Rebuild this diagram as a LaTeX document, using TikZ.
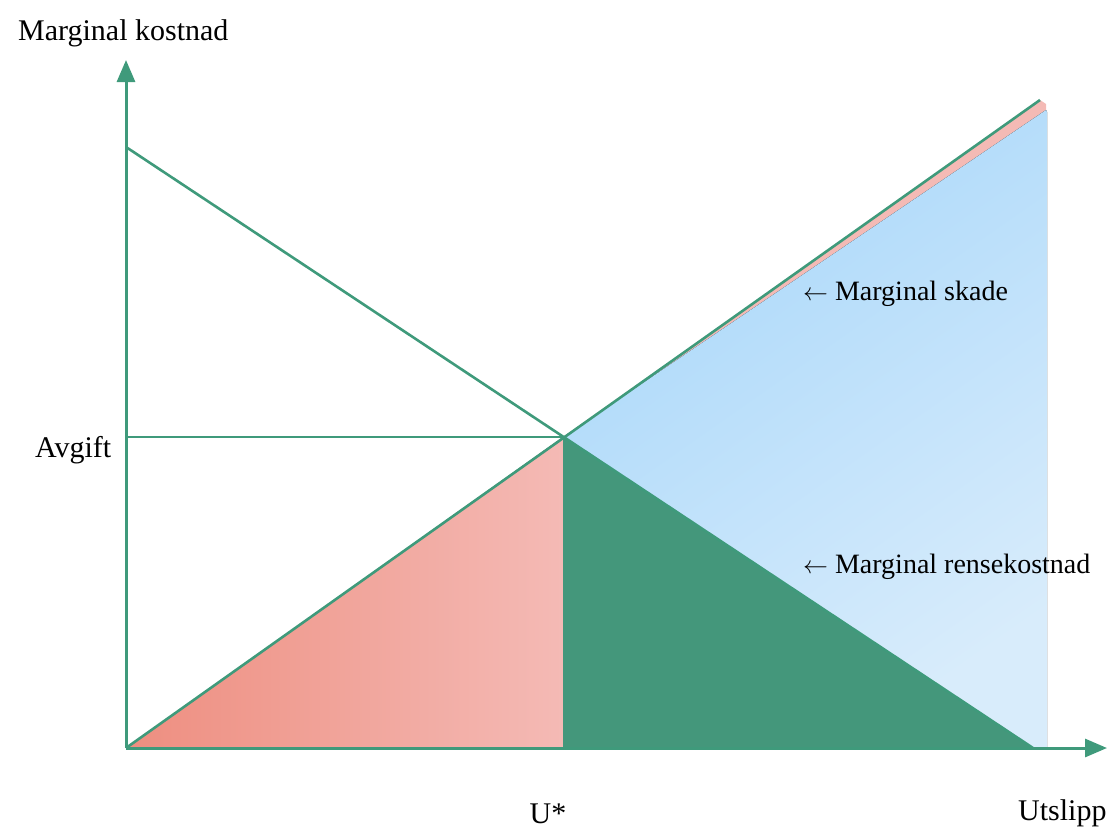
\documentclass[tikz,border=0pt]{standalone}
\usepackage{fontspec}
\setmainfont{Liberation Serif}
\usepackage{xcolor}
\usetikzlibrary{arrows.meta, positioning}

\definecolor{kurve}{HTML}{3F9A7B}
\definecolor{gronn}{HTML}{44977B}
\definecolor{rosa1}{HTML}{EE8E80}
\definecolor{rosa2}{HTML}{F4BAB5}
\definecolor{blaa1}{HTML}{A8D7FA}
\definecolor{blaa2}{HTML}{D8ECFB}

\begin{document}
\begin{tikzpicture}[
        x=1pt, y=-1pt,
        axis/.style={draw=kurve, line width=3pt, -{Triangle[length=22pt, width=18pt]}},
        curve/.style={draw=kurve, line width=2.6pt},
        bigtext/.style={font=\fontsize{30}{34}\selectfont, inner sep=0pt},
        label/.style={font=\fontsize{28}{32}\selectfont, inner sep=0pt, anchor=west}
    ]
        \useasboundingbox (0,0) rectangle (1107,830);

        % Points
        \coordinate (origo) at (126,748);
        \coordinate (ytopp) at (126,60);
        \coordinate (xende) at (1107,748);
        \coordinate (likevekt) at (563,437);
        \coordinate (ufot) at (563,748);
        \coordinate (rstart) at (126,147);
        \coordinate (rslutt) at (1033,748);
        \coordinate (sslutt) at (1040,100);
        \coordinate (avgift) at (126,437);

        % Areas
        \fill[left color=rosa1, right color=rosa2] (origo) -- (likevekt) -- (ufot) -- cycle;
        \fill[rosa2] (likevekt) -- (sslutt) -- (1046,104) -- (1046,110) -- cycle;
        \fill[top color=blaa1, bottom color=blaa2, shading angle=35]
            (likevekt) -- (1046,110) -- (1047,112) -- (1047,748) -- (rslutt) -- cycle;
        \fill[gronn] (likevekt) -- (ufot) -- (rslutt) -- cycle;

        % Curves
        \draw[curve] (rstart) -- (rslutt);
        \draw[curve] (origo) -- (sslutt);
        \draw[curve] (avgift) -- (likevekt);

        % Axes
        \draw[axis] (origo) -- (ytopp);
        \draw[axis] (origo) -- (xende);

        % Texts
        \node[bigtext, anchor=base west] (ytekst) at (18,40) {Marginal kostnad};
        \node[bigtext, anchor=west] (avgifttekst) at (35,450) {Avgift};
        \node[bigtext, anchor=north] (ustjerne) at (548,804) {U*};
        \node[bigtext, anchor=west] (xtekst) at (1018,813) {Utslipp};
        \node[label] (skade) at (803,294) {$\leftarrow$ Marginal skade};
        \node[label] (rense) at (803,567) {$\leftarrow$ Marginal rensekostnad};
    \end{tikzpicture}
\end{document}
